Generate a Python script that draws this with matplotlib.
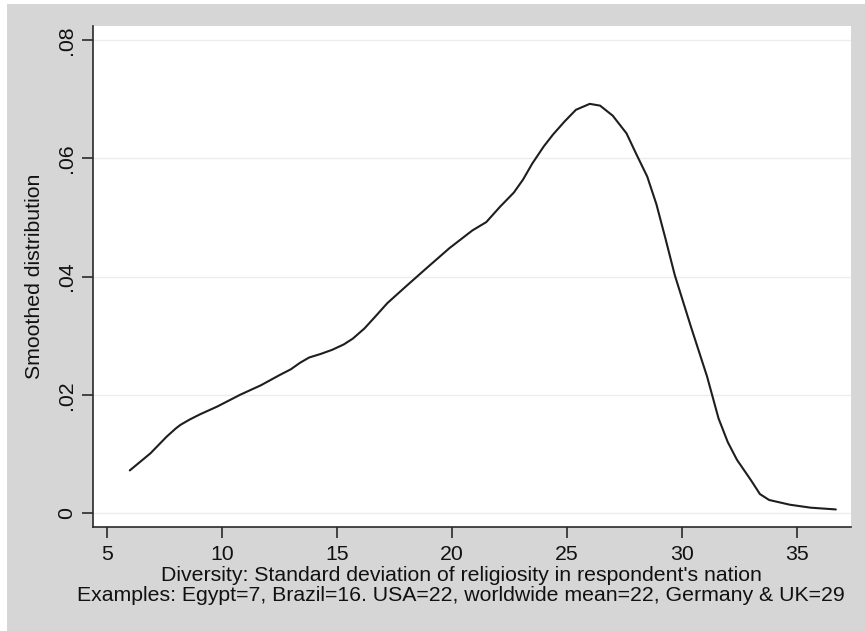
import matplotlib
matplotlib.use("Agg")
import matplotlib.pyplot as plt
from matplotlib.patches import Rectangle
from matplotlib.ticker import FuncFormatter

# Kernel-smoothed distribution of within-nation religiosity diversity
diversity = [6.0, 6.9, 7.3, 7.6, 8.0, 8.2, 8.6, 9.06, 9.8, 10.5, 10.8, 11.7,
             12.5, 13.0, 13.4, 13.8, 14.3, 14.8, 15.3, 15.7, 16.2, 16.6, 17.2,
             18.0, 18.9, 19.9, 20.9, 21.5, 22.1, 22.7, 23.1, 23.5, 24.0, 24.4,
             24.9, 25.4, 26.0, 26.45, 27.0, 27.6, 28.0, 28.5, 28.9, 29.3, 29.7,
             30.4, 31.1, 31.6, 32.0, 32.4, 33.0, 33.4, 33.8, 34.7, 35.6, 36.7]
density = [0.0072, 0.0101, 0.0117, 0.0129, 0.0143, 0.0149, 0.0158, 0.0167,
           0.0180, 0.0194, 0.0200, 0.0216, 0.0233, 0.0243, 0.0254, 0.0263,
           0.0269, 0.0276, 0.0285, 0.0295, 0.0312, 0.0329, 0.0355, 0.0383,
           0.0414, 0.0448, 0.0478, 0.0492, 0.0518, 0.0542, 0.0564, 0.0591,
           0.0620, 0.0640, 0.0662, 0.0682, 0.0692, 0.0689, 0.0672, 0.0642,
           0.0609, 0.0569, 0.0522, 0.0463, 0.0402, 0.0315, 0.0231, 0.0160,
           0.0120, 0.0090, 0.0056, 0.0032, 0.0022, 0.0014, 0.0009, 0.0006]

x_ticks = [5, 10, 15, 20, 25, 30, 35]
y_ticks = [0, 0.02, 0.04, 0.06, 0.08]

x_title = ("Diversity: Standard deviation of religiosity in respondent's nation\n"
           "Examples: Egypt=7, Brazil=16. USA=22, worldwide mean=22, Germany & UK=29")
y_title = "Smoothed distribution"

plt.rcParams["font.family"] = ["Liberation Sans", "DejaVu Sans"]

W, H = 865, 631
FS = 15.3
fig = plt.figure(figsize=(W / 100, H / 100), dpi=100, facecolor="white")
bg = "#d6d6d6"
fig.patches.append(Rectangle((7 / W, 0), 1 - 7 / W, 1 - 4 / H,
                             transform=fig.transFigure, facecolor=bg,
                             edgecolor="none", zorder=-10))

ax = fig.add_axes([93 / W, 1 - 527 / H, (851 - 93) / W, (527 - 26) / H])
ax.set_facecolor("white")

ax.plot(diversity, density, color="#1e1e1e", lw=1.5,
        solid_joinstyle="round", solid_capstyle="round", zorder=3)

ax.set_xlim(4.40, 37.36)
ax.set_ylim(-0.00237, 0.08237)
ax.set_xticks(x_ticks)
ax.set_yticks(y_ticks)

def fmt_y(v, _):
    if abs(v) < 1e-12:
        return "0"
    return ("%.2f" % v).lstrip("0")

ax.yaxis.set_major_formatter(FuncFormatter(fmt_y))

ax.grid(axis="y", color="#ececec", lw=1.0, zorder=1)
ax.set_axisbelow(True)

for side in ("top", "right"):
    ax.spines[side].set_visible(False)
for side in ("left", "bottom"):
    ax.spines[side].set_color("#2a2a2a")
    ax.spines[side].set_linewidth(1.2)

ax.tick_params(axis="both", direction="out", length=8, width=1.2,
               color="#2a2a2a", labelsize=FS, labelcolor="#111111", pad=5)
ax.tick_params(axis="y", labelrotation=90, pad=4)
for lab in ax.get_yticklabels():
    lab.set_va("center")

ax.set_xlabel(x_title, fontsize=FS, color="#111111", linespacing=1.1)
ax.xaxis.set_label_coords((461 - 93) / (851 - 93), -0.077, transform=ax.transAxes)
ax.xaxis.label.set_va("top")

ax.set_ylabel(y_title, fontsize=FS, color="#111111")
ax.yaxis.set_label_coords(-(93 - 44) / (851 - 93), 0.5, transform=ax.transAxes)

fig.savefig("out.png", dpi=100, facecolor=fig.get_facecolor())
